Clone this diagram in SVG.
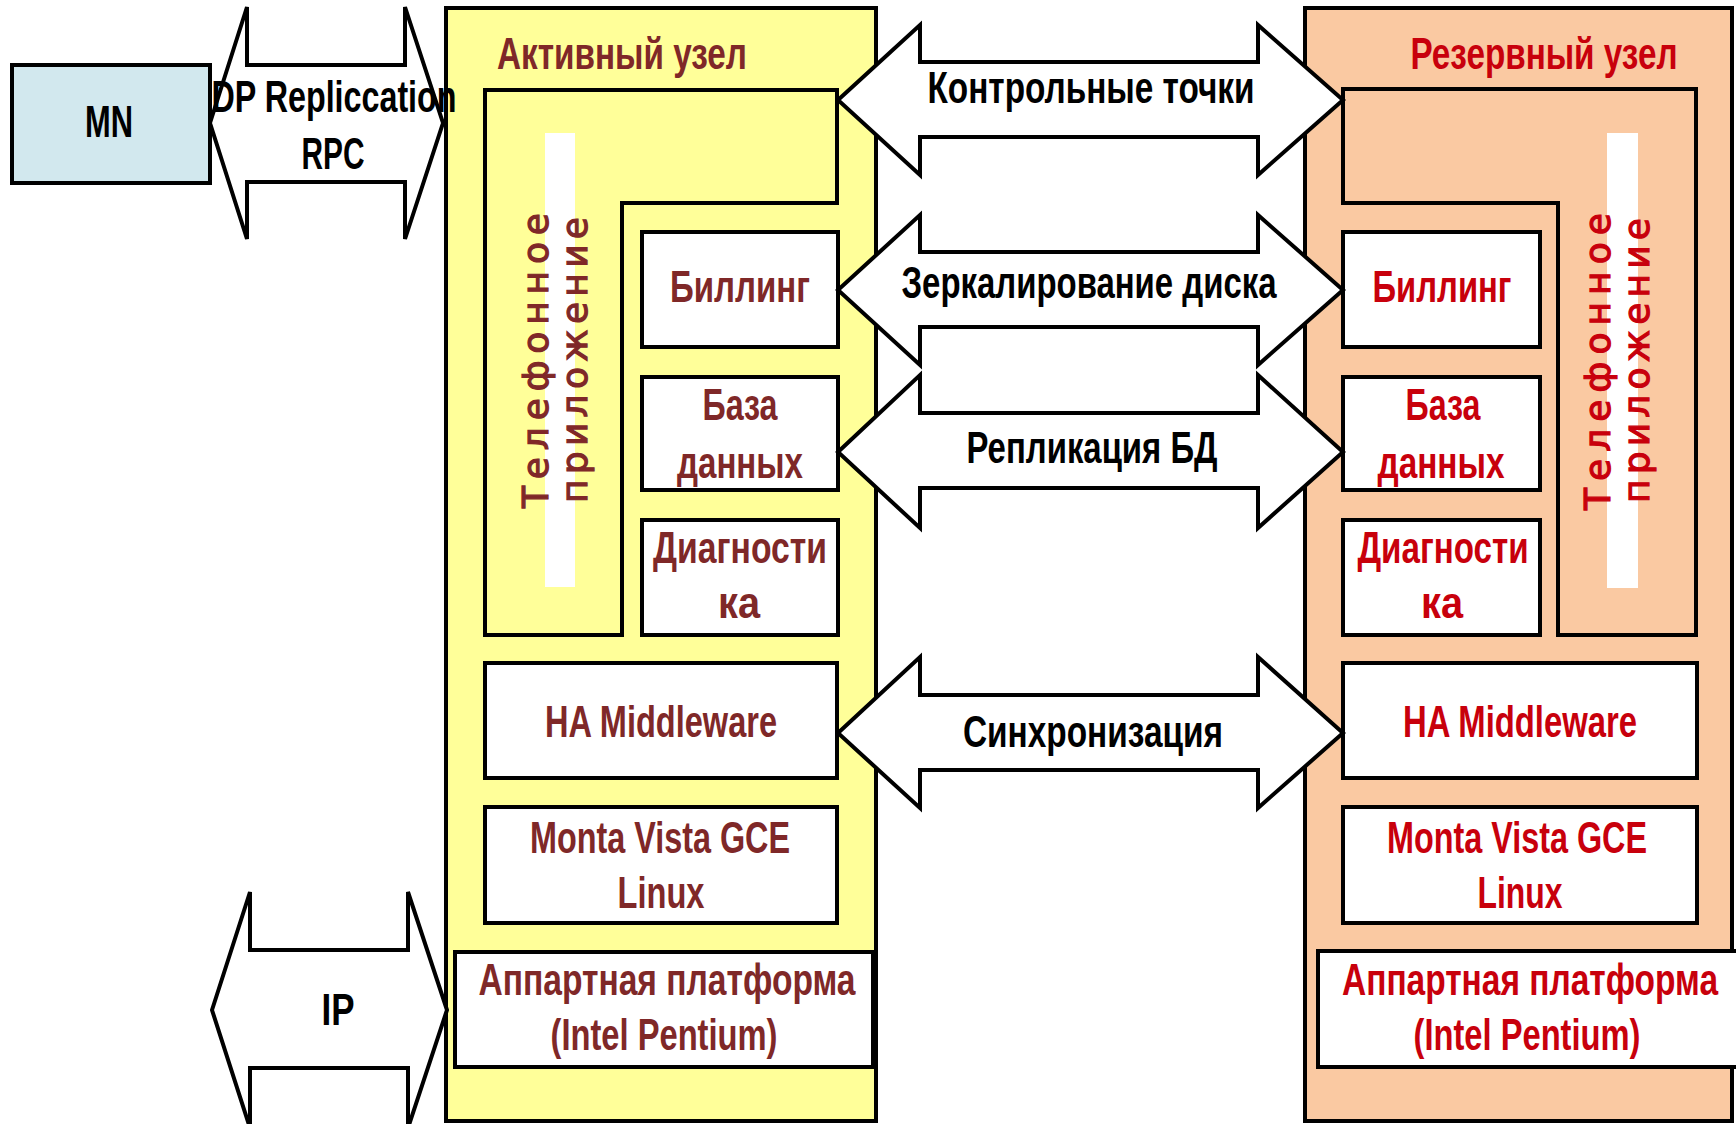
<svg xmlns="http://www.w3.org/2000/svg" width="1736" height="1124" viewBox="0 0 1736 1124">
  <style>
    .box { stroke: #000; stroke-width: 4; stroke-linejoin: miter; }
    .white { fill: #ffffff; }
    .active { fill: #ffff99; }
    .reserve { fill: #fac9a2; }
    .mn { fill: #d2e8ee; }
    .arrow { fill: #ffffff; stroke: #000; stroke-width: 4; stroke-linejoin: miter; }
    text { font-family: "Liberation Sans Narrow", "Liberation Sans", Arial, sans-serif; font-weight: bold; font-size: 44px; text-anchor: middle; }
    .ta { fill: #7f2828; }
    .tr { fill: #c8000c; }
    .tb { fill: #000; }
    .vert { font-family: "DejaVu Sans", "Liberation Sans", sans-serif; font-weight: normal; font-size: 36px; text-anchor: start; stroke-width: 1.2; }
    .ta.vert { stroke: #7f2828; }
    .tr.vert { stroke: #c8000c; }
  </style>

  <rect x="0" y="0" width="1736" height="1124" fill="#ffffff"/>

  <!-- Management node -->
  <g id="mn">
    <rect class="box mn" x="12" y="65" width="198" height="118"/>
    <text class="tb" x="109" y="137" font-size="48" textLength="48" lengthAdjust="spacingAndGlyphs">MN</text>
  </g>

  <!-- Active node -->
  <g id="active-node">
    <rect class="box active" x="446" y="8" width="430" height="1113"/>
    <text class="ta" x="622" y="69" font-size="46" textLength="250" lengthAdjust="spacingAndGlyphs">Активный узел</text>

    <g id="active-telephony">
      <path class="box active" d="M485,90 H837 V203 H622 V635 H485 Z"/>
      <rect x="545" y="133" width="30" height="454" fill="#ffffff"/>
      <text class="ta vert" transform="translate(548,508) rotate(-90)" textLength="295" lengthAdjust="spacing">Телефонное</text>
      <text class="ta vert" transform="translate(587,503) rotate(-90)" textLength="286" lengthAdjust="spacing">приложение</text>
    </g>

    <g id="active-billing">
      <rect class="box white" x="642" y="232" width="196" height="115"/>
      <text class="ta" x="740" y="302" textLength="140" lengthAdjust="spacingAndGlyphs">Биллинг</text>
    </g>

    <g id="active-db">
      <rect class="box white" x="642" y="377" width="196" height="113"/>
      <text class="ta" x="740" y="420" textLength="75" lengthAdjust="spacingAndGlyphs">База</text>
      <text class="ta" x="740" y="478" textLength="126" lengthAdjust="spacingAndGlyphs">данных</text>
    </g>

    <g id="active-diag">
      <rect class="box white" x="642" y="520" width="196" height="115"/>
      <text class="ta" x="740" y="563" textLength="174" lengthAdjust="spacingAndGlyphs">Диагности</text>
      <text class="ta" x="739" y="618" textLength="42" lengthAdjust="spacingAndGlyphs">ка</text>
    </g>

    <g id="active-ha">
      <rect class="box white" x="485" y="663" width="352" height="115"/>
      <text class="ta" x="661" y="737" textLength="232" lengthAdjust="spacingAndGlyphs">HA Middleware</text>
    </g>

    <g id="active-os">
      <rect class="box white" x="485" y="807" width="352" height="116"/>
      <text class="ta" x="660" y="853" textLength="260" lengthAdjust="spacingAndGlyphs">Monta Vista GCE</text>
      <text class="ta" x="661" y="908" textLength="87" lengthAdjust="spacingAndGlyphs">Linux</text>
    </g>

    <g id="active-hw">
      <rect class="box white" x="455" y="952" width="418" height="115"/>
      <text class="ta" x="667" y="995" textLength="377" lengthAdjust="spacingAndGlyphs">Аппартная платформа</text>
      <text class="ta" x="664" y="1050" textLength="227" lengthAdjust="spacingAndGlyphs">(Intel Pentium)</text>
    </g>
  </g>

  <!-- Standby node -->
  <g id="reserve-node">
    <rect class="box reserve" x="1305" y="8" width="427" height="1113"/>
    <text class="tr" x="1544" y="69" font-size="46" textLength="267" lengthAdjust="spacingAndGlyphs">Резервный узел</text>

    <g id="reserve-telephony">
      <path class="box reserve" d="M1343,89 H1696 V635 H1558 V203 H1343 Z"/>
      <rect x="1607" y="133" width="31" height="455" fill="#ffffff"/>
      <text class="tr vert" transform="translate(1610,510) rotate(-90)" textLength="297" lengthAdjust="spacing">Телефонное</text>
      <text class="tr vert" transform="translate(1649,503) rotate(-90)" textLength="285" lengthAdjust="spacing">приложение</text>
    </g>

    <g id="reserve-billing">
      <rect class="box white" x="1343" y="232" width="197" height="115"/>
      <text class="tr" x="1442" y="302" textLength="139" lengthAdjust="spacingAndGlyphs">Биллинг</text>
    </g>

    <g id="reserve-db">
      <rect class="box white" x="1343" y="377" width="197" height="113"/>
      <text class="tr" x="1443" y="420" textLength="75" lengthAdjust="spacingAndGlyphs">База</text>
      <text class="tr" x="1441" y="478" textLength="127" lengthAdjust="spacingAndGlyphs">данных</text>
    </g>

    <g id="reserve-diag">
      <rect class="box white" x="1343" y="520" width="197" height="115"/>
      <text class="tr" x="1443" y="563" textLength="171" lengthAdjust="spacingAndGlyphs">Диагности</text>
      <text class="tr" x="1442" y="618" textLength="42" lengthAdjust="spacingAndGlyphs">ка</text>
    </g>

    <g id="reserve-ha">
      <rect class="box white" x="1343" y="663" width="354" height="115"/>
      <text class="tr" x="1520" y="737" textLength="234" lengthAdjust="spacingAndGlyphs">HA Middleware</text>
    </g>

    <g id="reserve-os">
      <rect class="box white" x="1343" y="807" width="354" height="116"/>
      <text class="tr" x="1517" y="853" textLength="260" lengthAdjust="spacingAndGlyphs">Monta Vista GCE</text>
      <text class="tr" x="1520" y="908" textLength="85" lengthAdjust="spacingAndGlyphs">Linux</text>
    </g>

    <g id="reserve-hw">
      <rect class="box white" x="1318" y="951" width="430" height="116"/>
      <text class="tr" x="1530" y="995" textLength="376" lengthAdjust="spacingAndGlyphs">Аппартная платформа</text>
      <text class="tr" x="1527" y="1050" textLength="227" lengthAdjust="spacingAndGlyphs">(Intel Pentium)</text>
    </g>
  </g>

  <!-- Double-headed block arrows between the nodes and to the outside -->
  <g id="connectors">
    <g id="link-dp">
      <polygon class="arrow" points="210,123 247,7 247,65 405,65 405,7 443,123 405,239 405,182 247,182 247,239"/>
      <text class="tb" x="334" y="112" font-size="46" textLength="245" lengthAdjust="spacingAndGlyphs">DP Repliccation</text>
      <text class="tb" x="333" y="169" font-size="42" textLength="63" lengthAdjust="spacingAndGlyphs">RPC</text>
    </g>

    <g id="link-ip">
      <polygon class="arrow" points="212,1010 250,892 250,950 408,950 408,892 447,1010 408,1128 408,1068 250,1068 250,1128"/>
      <text class="tb" x="338" y="1025" font-size="56" textLength="33" lengthAdjust="spacingAndGlyphs">IP</text>
    </g>

    <g id="link-checkpoints">
      <polygon class="arrow" points="838,100 920,25 920,62 1258,62 1258,25 1343,100 1258,175 1258,137 920,137 920,175"/>
      <text class="tb" x="1091" y="103" textLength="327" lengthAdjust="spacingAndGlyphs">Контрольные точки</text>
    </g>

    <g id="link-mirror">
      <polygon class="arrow" points="838,290 920,215 920,252 1258,252 1258,215 1343,290 1258,365 1258,327 920,327 920,365"/>
      <text class="tb" x="1089" y="298" textLength="375" lengthAdjust="spacingAndGlyphs">Зеркалирование диска</text>
    </g>

    <g id="link-db">
      <polygon class="arrow" points="838,452 920,375 920,413 1258,413 1258,375 1343,452 1258,528 1258,488 920,488 920,528"/>
      <text class="tb" x="1092" y="463" textLength="251" lengthAdjust="spacingAndGlyphs">Репликация БД</text>
    </g>

    <g id="link-sync">
      <polygon class="arrow" points="838,733 920,657 920,695 1258,695 1258,657 1343,733 1258,808 1258,770 920,770 920,808"/>
      <text class="tb" x="1093" y="747" textLength="260" lengthAdjust="spacingAndGlyphs">Синхронизация</text>
    </g>
  </g>
</svg>
